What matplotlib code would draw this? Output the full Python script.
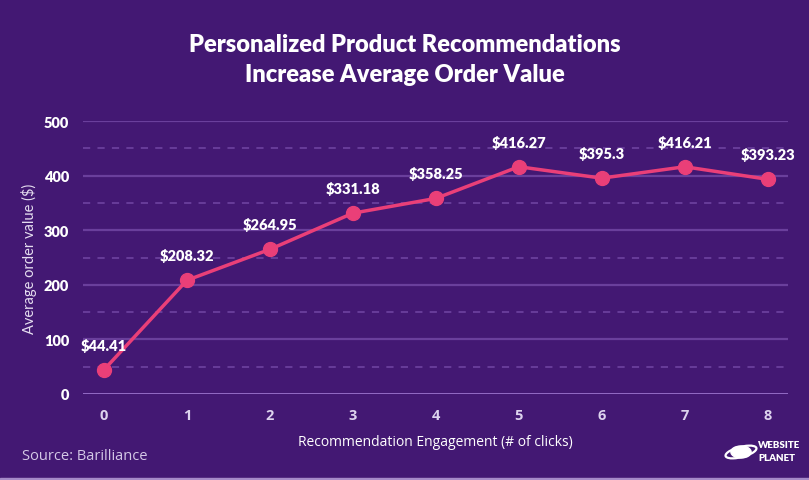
import matplotlib.pyplot as plt
from matplotlib.patches import Circle, Ellipse, Rectangle

clicks = [0, 1, 2, 3, 4, 5, 6, 7, 8]
aov = [44.41, 208.32, 264.95, 331.18, 358.25, 416.27, 395.3, 416.21, 393.23]
labels = ['$44.41', '$208.32', '$264.95', '$331.18', '$358.25',
          '$416.27', '$395.3', '$416.21', '$393.23']
yticks = [0, 100, 200, 300, 400, 500]

bg = '#431873'
pink = '#ea3f78'
plt.rcParams['font.family'] = ['Lato', 'DejaVu Sans']

fig = plt.figure(figsize=(8.09, 4.81), dpi=100, facecolor=bg)
ax = fig.add_axes([83 / 809, 1 - 395 / 481, 705 / 809, 273 / 481])
ax.set_facecolor(bg)

for v in range(100, 501, 100):
    ax.axhline(v, color='#6a3f9c', lw=1.6, zorder=1)
for v in range(50, 500, 100):
    ax.axhline(v, color='#6a3f9c', lw=1.3, ls=(0, (4, 4)), zorder=1)
ax.axhline(0, color='#9a72cc', lw=2, zorder=2)

ax.plot(clicks, aov, color=pink, lw=2.5, marker='o', ms=10, zorder=3)
for x, y, t in zip(clicks, aov, labels):
    ax.annotate(t, (x, y), xytext=(0, 13), textcoords='offset points',
                ha='center', va='bottom', color='white', fontsize=10.5,
                fontweight='heavy')

ax.set_xlim(-0.253, 8.245)
ax.set_ylim(0, 500)
ax.set_xticks(clicks)
ax.set_yticks(yticks)
ax.tick_params(length=0, labelsize=10.5, pad=10)
ax.tick_params(axis='y', colors='white')
ax.tick_params(axis='x', colors='#ddd3ee')
for lab in ax.get_yticklabels():
    lab.set_fontweight('heavy')
for lab in ax.get_xticklabels():
    lab.set_fontweight('bold')
    lab.set_family(['Open Sans', 'DejaVu Sans'])
for s in ax.spines.values():
    s.set_visible(False)

ax.set_xlabel('Recommendation Engagement (# of clicks)', color='white',
              fontsize=10, labelpad=9, family=['Open Sans', 'DejaVu Sans'])
ax.set_ylabel('Average order value ($)', color='#e6def0', fontsize=10.5,
              labelpad=5, fontweight='normal')

fig.text(0.5, 1 - 45 / 481, 'Personalized Product Recommendations',
         ha='center', va='center', color='white', fontsize=17, fontweight='heavy')
fig.text(0.5, 1 - 75 / 481, 'Increase Average Order Value',
         ha='center', va='center', color='white', fontsize=17, fontweight='heavy')
fig.text(22 / 809, 1 - 457 / 481, 'Source: Barilliance', color='#d4c8e6',
         fontsize=10.5, va='center', family=['Open Sans', 'DejaVu Sans'])

# simple logo
lx, ly = 741 / 809, 1 - 453 / 481
fig.patches.append(Circle((lx, ly), 0.0125, transform=fig.transFigure,
                          color='white'))
fig.patches.append(Ellipse((lx, ly), 0.042, 0.02, angle=28, fill=False,
                           ec='white', lw=1.6, transform=fig.transFigure))
fig.text(758 / 809, 1 - 446 / 481, 'WEBSITE', color='white', fontsize=7,
         fontweight='heavy', va='center')
fig.text(758 / 809, 1 - 459 / 481, 'PLANET', color='white', fontsize=7,
         fontweight='heavy', va='center')

# thin light strip along the bottom edge
fig.patches.append(Rectangle((0, 0), 1, 2 / 481, transform=fig.transFigure,
                             color='#a58ac8'))

fig.savefig('out.png', dpi=100, facecolor=bg)
